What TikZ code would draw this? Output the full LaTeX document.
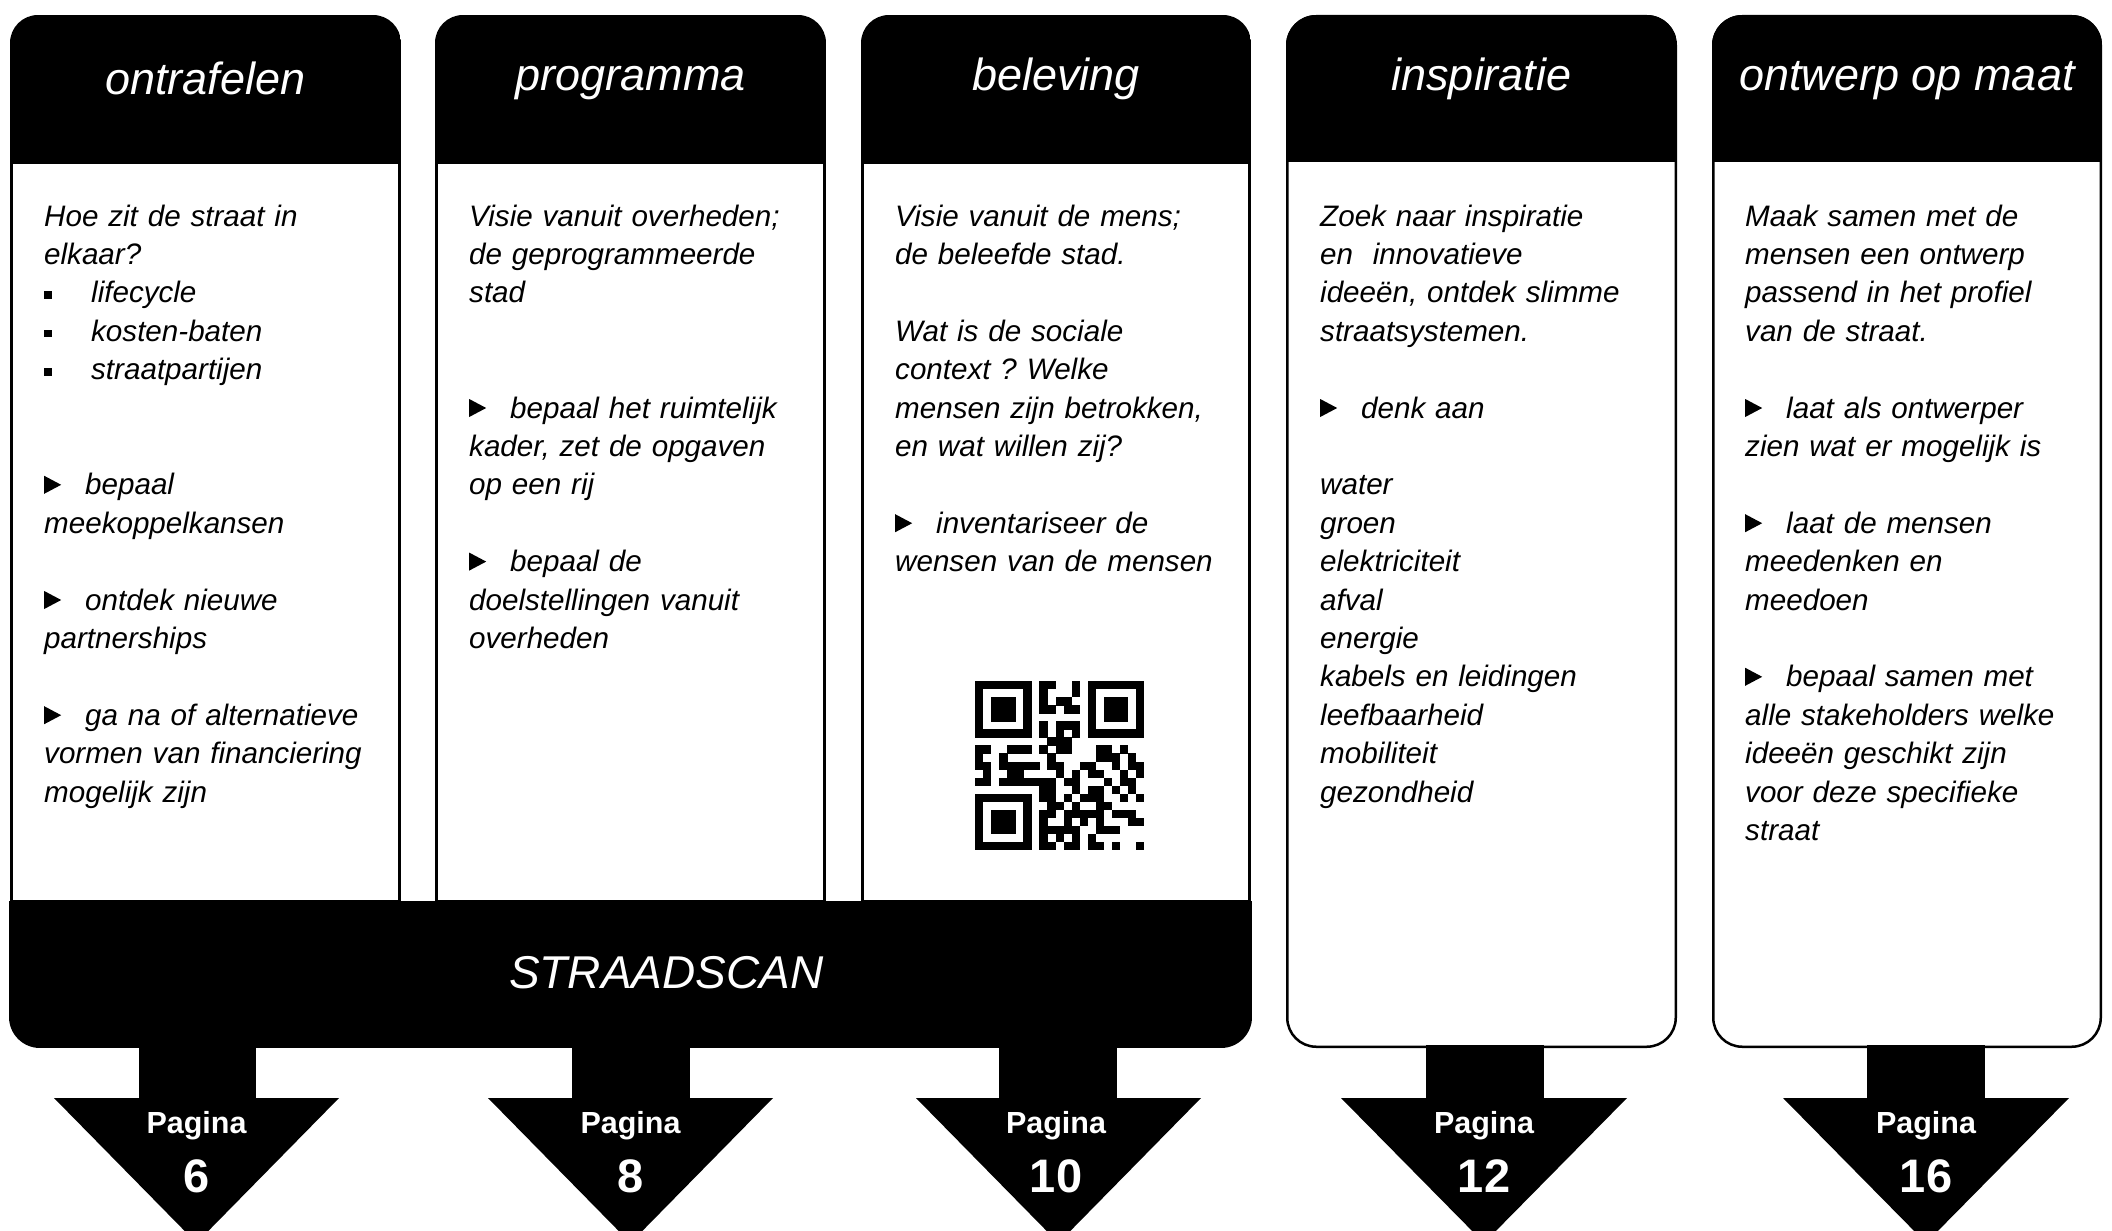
\documentclass[tikz,border=0pt]{standalone}
\usepackage{fontspec}
\setmainfont{Liberation Sans}
\frenchspacing
\newcommand\sqbul{\makebox[47pt][l]{\raisebox{4pt}{\rule{7.5pt}{7.5pt}}}}
\newcommand\tribul{\makebox[41pt][l]{\tikz[baseline=0pt]\fill (0pt,1pt) -- (0pt,19pt) -- (17pt,10pt) -- cycle;}}
\newcount\qrcol
\def\qrdraw#1#2{\qrcol=0 \def\qrrowy{#1}\qrscan#2\relax}
\def\qrscan#1{\ifx#1\relax\else
  \if1#1\fill (975+8.05*\the\qrcol,681+8.05*\qrrowy) rectangle ++(8.4,8.4);\fi
  \advance\qrcol by 1
  \expandafter\qrscan\fi}
\tikzset{
  titletext/.style={text=white, font=\fontsize{45}{54}\selectfont\itshape, anchor=base, inner sep=0pt},
  bodytext/.style={anchor=base west, inner sep=0pt, text width=362pt, align=left, font=\fontsize{29.6}{38.4}\selectfont\itshape\frenchspacing},
  pagtext/.style={text=white, font=\fontsize{30.5}{36}\selectfont\bfseries, anchor=base, inner sep=0pt},
  pagnum/.style={text=white, font=\fontsize{47}{56}\selectfont\bfseries, anchor=base, inner sep=0pt},
  boxline/.style={line width=3pt, draw=black},
}
\begin{document}
\begin{tikzpicture}[x=1pt,y=-1pt]
\useasboundingbox (0,0) rectangle (2112,1231);
\fill[white] (0,0) rectangle (2112,1231);

% ---- STRAADSCAN bar
\begin{scope}
  \clip[rounded corners=31] (9,700) rectangle (1252,1048);
  \fill[black] (9,901) rectangle (1252,1048);
\end{scope}

% ---- boxes 1-3 (joined to bar)
\foreach \L/\R in {10/401, 435/826, 861/1251}{
  \begin{scope}
    \clip[rounded corners=28] (\L,15) rectangle (\R,1000);
    \fill[black] (\L,15) rectangle (\R,163);
  \end{scope}
  \draw[boxline, fill=white] (\L+1.5,162) rectangle (\R-1.5,901);
}

% ---- boxes 4-5
\foreach \L/\R in {1286/1677, 1712/2102}{
  \begin{scope}
    \clip[rounded corners=30] (\L,15) rectangle (\R,1048);
    \fill[white] (\L,15) rectangle (\R,1048);
    \fill[black] (\L,15) rectangle (\R,162);
  \end{scope}
  \draw[line width=2.5pt, rounded corners=29] (\L+1.25,16.25) rectangle (\R-1.25,1046.75);
}

% ---- arrows
\foreach \sl/\sr/\tl/\tr in {139/256/54/339, 572/690/488/773, 999/1117/916/1201, 1426/1544/1341/1627, 1867/1985/1783/2069}{
  \fill[black] (\sl,1045) rectangle (\sr,1099);
  \fill[black] (\tl,1098) -- (\tr,1098) -- ({(\tl+\tr)/2},1243) -- cycle;
}

% ---- titles
\node[titletext] (t1) at (205.5,95) {ontrafelen};
\node[titletext] (t2) at (630.5,91) {programma};
\node[titletext] (t3) at (1056,91) {beleving};
\node[titletext] (t4) at (1481.5,91) {inspiratie};
\node[titletext] (t5) at (1907,91) {ontwerp op maat};

\node[titletext, anchor=base west, font=\fontsize{46}{54}\selectfont\itshape] (scan) at (509,988) {STRAADSCAN};

% ---- body texts
\node[bodytext] (b1) at (44,226) {Hoe zit de straat in\\
elkaar?\\
\sqbul lifecycle\\
\sqbul kosten-baten\\
\sqbul straatpartijen\\[76.8pt]
\tribul bepaal\\
meekoppelkansen\\[38.4pt]
\tribul ontdek nieuwe\\
partnerships\\[38.4pt]
\tribul ga na of alternatieve\\
vormen van financiering\\
mogelijk zijn};

\node[bodytext] (b2) at (469,226) {Visie vanuit overheden;\\
de geprogrammeerde\\
stad\\[76.8pt]
\tribul bepaal het ruimtelijk\\
kader, zet de opgaven\\
op een rij\\[38.4pt]
\tribul bepaal de\\
doelstellingen vanuit\\
overheden};

\node[bodytext] (b3) at (895,226) {Visie vanuit de mens;\\
de beleefde stad.\\[38.4pt]
Wat is de sociale\\
context ? Welke\\
mensen zijn betrokken,\\
en wat willen zij?\\[38.4pt]
\tribul inventariseer de\\
wensen van de mensen};

\node[bodytext] (b4) at (1320,226) {Zoek naar inspiratie\\
en\ \ innovatieve\\
ideeën, ontdek slimme\\
straatsystemen.\\[38.4pt]
\tribul denk aan\\[38.4pt]
water\\
groen\\
elektriciteit\\
afval\\
energie\\
kabels en leidingen\\
leefbaarheid\\
mobiliteit\\
gezondheid};

\node[bodytext] (b5) at (1745,226) {Maak samen met de\\
mensen een ontwerp\\
passend in het profiel\\
van de straat.\\[38.4pt]
\tribul laat als ontwerper\\
zien wat er mogelijk is\\[38.4pt]
\tribul laat de mensen\\
meedenken en\\
meedoen\\[38.4pt]
\tribul bepaal samen met\\
alle stakeholders welke\\
ideeën geschikt zijn\\
voor deze specifieke\\
straat};

% ---- QR code
\qrdraw{0}{111111101100101111111}
\qrdraw{1}{100000101000101000001}
\qrdraw{2}{101110101011001011101}
\qrdraw{3}{101110101101101011101}
\qrdraw{4}{101110100000001011101}
\qrdraw{5}{100000101011101000001}
\qrdraw{6}{111111101010101111111}
\qrdraw{7}{000000000111000000000}
\qrdraw{8}{110011101011000110100}
\qrdraw{9}{100100000100000111010}
\qrdraw{10}{110111110110011001011}
\qrdraw{11}{010011000010101100101}
\qrdraw{12}{110111111101100010110}
\qrdraw{13}{000000001100101101010}
\qrdraw{14}{111111101101011100101}
\qrdraw{15}{100000100110100110000}
\qrdraw{16}{101110101101111101110}
\qrdraw{17}{101110101001010100011}
\qrdraw{18}{101110101111100111000}
\qrdraw{19}{100000101010101000000}
\qrdraw{20}{111111101101101101001}

% ---- page labels
\node[pagtext] (p1) at (196.5,1133) {Pagina};
\node[pagnum] (n1) at (196.5,1192) {6};
\node[pagtext] (p2) at (630.5,1133) {Pagina};
\node[pagnum] (n2) at (630.5,1192) {8};
\node[pagtext] (p3) at (1056,1133) {Pagina};
\node[pagnum] (n3) at (1056,1192) {10};
\node[pagtext] (p4) at (1484,1133) {Pagina};
\node[pagnum] (n4) at (1484,1192) {12};
\node[pagtext] (p5) at (1926,1133) {Pagina};
\node[pagnum] (n5) at (1926,1192) {16};
\end{tikzpicture}
\end{document}
